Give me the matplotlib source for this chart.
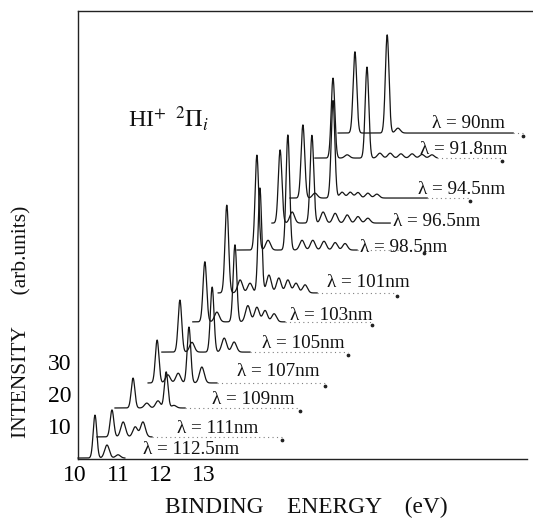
import numpy as np
import matplotlib
matplotlib.use('Agg')
import matplotlib.pyplot as plt

plt.rcParams['font.family'] = ['Liberation Serif', 'DejaVu Serif']
plt.rcParams['mathtext.fontset'] = 'stix'

# ---------------- data ----------------
wavelengths = ['112.5', '111', '109', '107', '105', '103', '101', '98.5',
               '96.5', '94.5', '91.8', '90']
# waterfall offsets of each spectrum (intensity baseline, onset energy)
baselines = [0.3, 6.8, 15.7, 23.4, 32.9, 42.2, 51.1, 64.3, 72.6, 80.3, 92.6, 100.3]
onsets = [10.07, 10.51, 10.93, 11.70, 12.02, 12.74, 13.33, 13.77, 14.58, 15.00, 15.58, 16.12]
trace_ends = [11.16, 11.79, 12.56, 13.30, 14.07, 14.88, 15.63, 16.56, 17.33, 18.19, 18.42, 20.19]
baseline_ends = [None, 14.81, 15.23, 15.81, 16.35, 16.91, 17.49, 18.12, None, 19.19, 19.93, 20.42]

peak_centres = [
    [10.465, 10.744, 11.00],
    [10.86, 11.12, 11.40, 11.58],
    [11.35, 11.67, 11.93, 12.12, 12.30],
    [11.91, 12.16, 12.40, 12.65, 12.95],
    [12.44, 12.72, 13.19, 13.47, 13.70],
    [13.02, 13.30, 13.72, 14.02, 14.23, 14.42, 14.63],
    [13.53, 13.84, 14.07, 14.30, 14.51, 14.74, 14.95, 15.14, 15.35],
    [14.23, 14.49, 14.95, 15.28, 15.53, 15.79, 16.05, 16.28],
    [14.77, 15.05, 15.51, 15.77, 16.05, 16.33, 16.58, 16.81],
    [15.30, 15.58, 16.00, 16.21, 16.40, 16.58, 16.81, 17.02],
    [16.00, 16.33, 16.79, 17.09, 17.33, 17.58, 17.84, 18.07, 18.30],
    [16.51, 17.26, 17.51],
]
peak_heights = [
    [13.2, 4.0, 1.0],
    [8.3, 4.6, 3.1, 4.6],
    [9.2, 1.5, 2.2, 11.1, 0.8],
    [13.2, 2.5, 3.0, 17.2, 4.9],
    [16.0, 3.0, 20.0, 4.3, 3.1],
    [18.5, 3.0, 23.7, 5.0, 4.5, 3.5, 2.5],
    [27.0, 4.0, 3.0, 32.3, 5.5, 4.6, 4.0, 3.0, 2.5],
    [29.2, 3.0, 35.4, 3.0, 3.0, 2.7, 2.3, 2.0],
    [22.5, 3.4, 27.0, 3.4, 3.0, 2.5, 2.0, 1.5],
    [22.5, 1.5, 30.0, 1.8, 1.8, 1.7, 1.5, 1.2],
    [24.6, 1.0, 28.0, 1.5, 1.5, 1.3, 1.3, 1.1, 1.0],
    [25.0, 30.2, 1.5],
]

xticks = [10, 11, 12, 13]
yticks = [10, 20, 30]

# ---------------- layout ----------------
label_pos = [(11.58, 2.8), (12.37, 9.5), (13.19, 18.2), (13.77, 26.8),
             (14.35, 35.4), (15.00, 44.3), (15.86, 54.2), (16.63, 65.2),
             (17.40, 73.2), (17.98, 82.8), (18.02, 95.1), (18.30, 103.1)]

W, H = 533, 522
fig = plt.figure(figsize=(W / 100, H / 100), dpi=100)
# axes in pixel terms: x from 75..533 px, y from 459 (bottom) .. 11 (top)
ax = fig.add_axes([75 / W, (H - 459) / H, 458 / W, 448 / H])
ax.set_xlim(10, 10 + 458 / 43)
ax.set_ylim(0, 448 / 3.25)

lc = '#151515'
for i, wl in enumerate(wavelengths):
    e = np.linspace(onsets[i], trace_ends[i], 1500)
    y = np.full_like(e, baselines[i])
    for c, h in zip(peak_centres[i], peak_heights[i]):
        s = 0.042 if h > 6 else 0.055
        y += h * np.exp(-0.5 * ((e - c) / s) ** 2)
    ax.plot(e, y, color=lc, lw=0.9, solid_joinstyle='round')
    if baseline_ends[i] is not None:
        ax.plot([trace_ends[i], baseline_ends[i]], [baselines[i]] * 2,
                color='#808080', lw=0.8, ls=(0, (1, 3)))
        ax.plot([baseline_ends[i]], [baselines[i] - 1.0], marker='o',
                ms=1.7, color='#222222', ls='none')
    lx, ly = label_pos[i]
    ax.text(lx, ly, '\u03bb = %snm' % wl, fontsize=13.8, ha='left',
            va='center', color='#111111')

ax.text(11.23, 102.2, r'HI$^{+}$ $^{\,2}\Pi_{i}$', fontsize=17.5,
        ha='left', va='baseline', color='#111111')

ax.spines['right'].set_visible(False)
ax.spines['left'].set_position(('data', 10.07))
ax.spines['bottom'].set_bounds(10.07, 10 + 452 / 43)
ax.spines['top'].set_bounds(10.07, 10 + 458 / 43)
for sp in ['left', 'bottom', 'top']:
    ax.spines[sp].set_linewidth(1.0)
    ax.spines[sp].set_color('#222222')

ax.set_xticks(xticks)
ax.set_xticklabels([str(t) for t in xticks])
ax.set_yticks(yticks)
ax.set_yticklabels([str(t) for t in yticks])
ax.tick_params(axis='both', length=0, labelsize=17)
ax.tick_params(axis='x', pad=4.0)
ax.tick_params(axis='y', pad=5.0)

fig.text(306.5 / W, 1 - 507 / H, 'BINDING    ENERGY    (eV)', fontsize=16.8,
         ha='center', va='center', color='#111111')
fig.text(22 / W, 1 - 322 / H, 'INTENSITY      (arb.units)', fontsize=15.5,
         ha='center', va='center', rotation=90, color='#111111')

fig.savefig('out.png', dpi=100)
